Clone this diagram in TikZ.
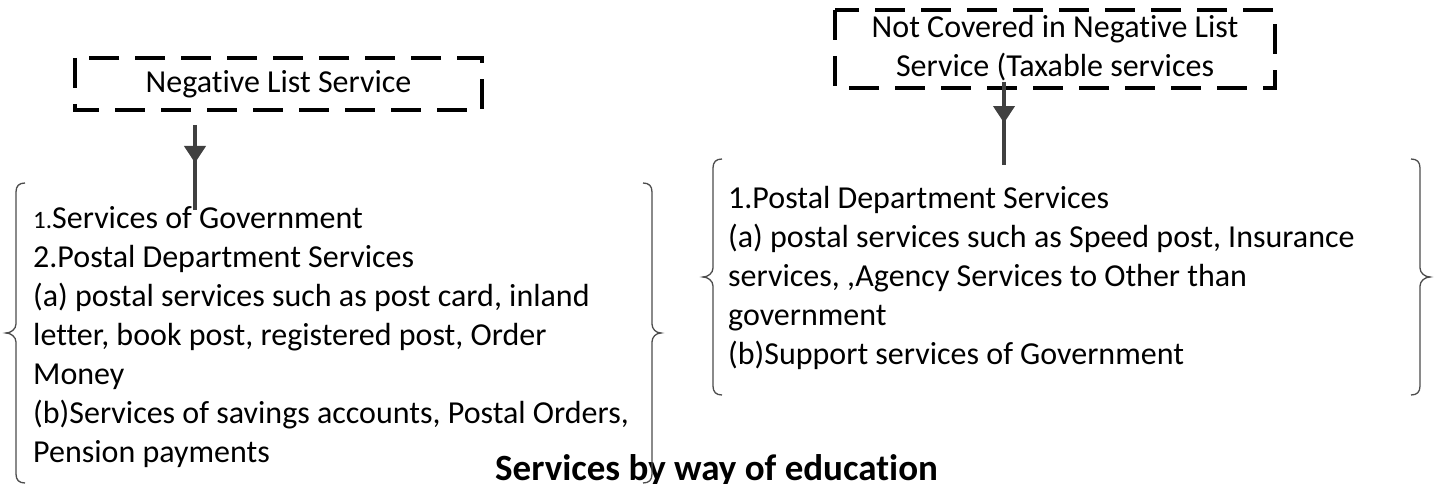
\documentclass[tikz,border=0pt]{standalone}
\usepackage{fontspec}
\setmainfont{Carlito}[Ligatures=NoCommon]
\usetikzlibrary{arrows.meta,decorations.markings}
\tikzset{
  dashbox/.style={draw=black, line width=4pt, dash pattern=on 30pt off 16pt},
  boxtext/.style={inner sep=0pt, font=\fontsize{32}{39}\selectfont},
  line/.style={inner sep=0pt, anchor=base west, font=\fontsize{32}{39}\selectfont},
  title/.style={inner sep=0pt, anchor=base west, font=\fontsize{37}{44}\selectfont\bfseries},
  brace/.style={draw=black!70, line width=1.3pt},
  flow/.style={draw=black!75, line width=4pt, postaction={decorate},
    decoration={markings, mark=at position #1 with {\arrow{Triangle[width=21pt,length=17pt]}}}},
}
\begin{document}
\begin{tikzpicture}[x=1pt,y=-1pt]
\useasboundingbox (0,0) rectangle (1434,484);
% left dashed box
\draw[dashbox] (75,58) rectangle (482,110);
\node[boxtext] (lbox) at (278.5,84) {Negative List Service};
% right dashed box
\draw[dashbox] (835,10) rectangle (1275,88);
\node[boxtext, anchor=base] (rbox1) at (1055,38) {Not Covered in Negative List};
\node[boxtext, anchor=base] (rbox2) at (1055,77) {Service (Taxable services};
% left group text
\node[line] (l1) at (33,228) {{\fontsize{25}{39}\selectfont 1.}Services of Government};
\node[line] (l2) at (33,267) {2.Postal Department Services};
\node[line] (l3) at (33,306) {(a) postal services such as post card, inland};
\node[line] (l4) at (33,345) {letter, book post, registered post, Order};
\node[line] (l5) at (33,384) {Money};
\node[line] (l6) at (33,423) {(b)Services of savings accounts, Postal Orders,};
\node[line] (l7) at (33,462) {Pension payments};
% right group text
\node[line] (r1) at (728,208) {1.Postal Department Services};
\node[line] (r2) at (728,247) {(a) postal services such as Speed post, Insurance};
\node[line] (r3) at (728,286) {services, ,Agency Services to Other than};
\node[line] (r4) at (728,325) {government};
\node[line] (r5) at (728,364) {(b)Support services of Government};
% title
\node[title] (ttl) at (495,480) {Services by way of education};
% braces left group
\draw[brace] (25,183) .. controls (19,183) and (16,186) .. (16,192) -- (16,324)
  .. controls (16,329) and (11,333) .. (6,333) .. controls (11,333) and (16,337) .. (16,342)
  -- (16,474) .. controls (16,480) and (19,483) .. (25,483);
\draw[brace] (643,183) .. controls (649,183) and (652,186) .. (652,192) -- (652,324)
  .. controls (652,329) and (656,333) .. (661,333) .. controls (656,333) and (652,337) .. (652,342)
  -- (652,474) .. controls (652,480) and (649,483) .. (643,483);
% braces right group
\draw[brace] (722,159) .. controls (716,159) and (713,162) .. (713,168) -- (713,268)
  .. controls (713,273) and (708,277) .. (703,277) .. controls (708,277) and (713,281) .. (713,286)
  -- (713,386) .. controls (713,392) and (716,395) .. (722,395);
\draw[brace] (1411,159) .. controls (1417,159) and (1420,162) .. (1420,168) -- (1420,268)
  .. controls (1420,273) and (1425,277) .. (1430,277) .. controls (1425,277) and (1420,281) .. (1420,286)
  -- (1420,386) .. controls (1420,392) and (1417,395) .. (1411,395);
% arrows
\coordinate (la1) at (195,125);
\coordinate (la2) at (195,210);
\draw[flow=0.447] (la1) -- (la2);
\coordinate (ra1) at (1004,82);
\coordinate (ra2) at (1004,165);
\draw[flow=0.494] (ra1) -- (ra2);
\end{tikzpicture}
\end{document}
